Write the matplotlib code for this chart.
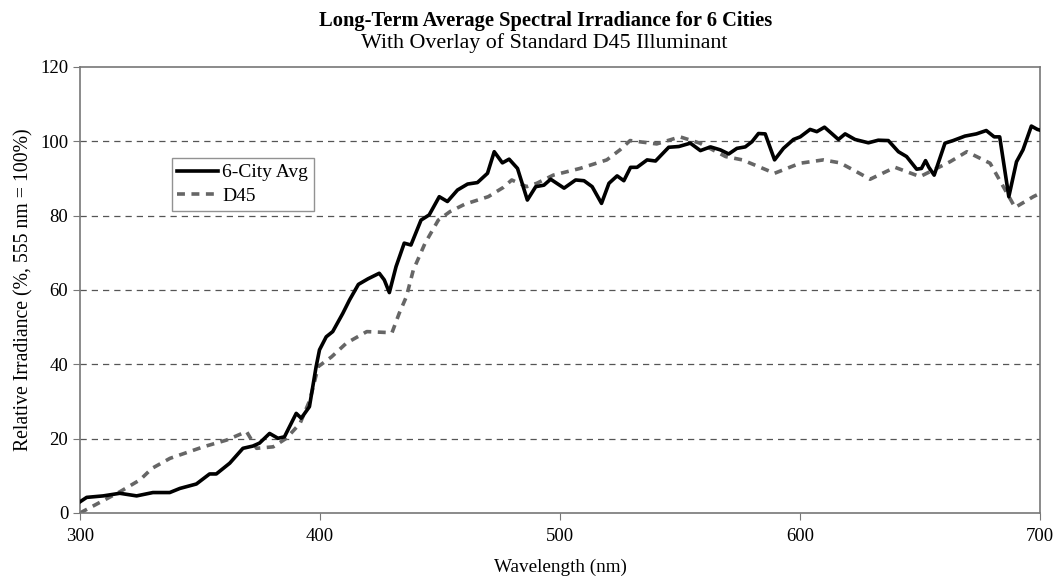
import matplotlib
matplotlib.use("Agg")
import matplotlib.pyplot as plt

# 6-city average spectral irradiance
city_nm = [300, 302.8, 309.7, 316.6, 323.6, 330.4, 337.4, 341.6, 348.5, 354, 356.8,
           362.4, 367.9, 372, 374.8, 379, 382.5, 385.2, 390.1, 392.2, 395.6, 398.4,
           399.8, 402.6, 405.3, 409.5, 412.3, 416, 420, 424.7, 426.8, 428.9, 431.7,
           435.1, 437.9, 442.1, 445.5, 449.7, 453.1, 457.3, 461.5, 465.6, 469.8,
           472.6, 476, 478.8, 482.3, 486.4, 489.9, 493.3, 496.1, 501.7, 506.5, 510,
           513.4, 517.3, 520.4, 523.8, 526.6, 529.4, 532.1, 536.3, 539.8, 545.3,
           549.5, 554.3, 558.5, 562.7, 566.8, 570.3, 573.7, 577.2, 580, 582.7, 585.5,
           589.4, 593.1, 597.3, 600.1, 604.2, 607, 610.2, 613.2, 616, 618.8, 622.9,
           628.5, 632.6, 636.8, 641, 644.4, 648.6, 650.6, 652.3, 653.7, 655.9, 660.4,
           663.8, 668.7, 673.5, 677.6, 680.9, 683.2, 687, 690.2, 692.9, 696.4, 698.9,
           700]
city_val = [3.0, 4.2, 4.6, 5.3, 4.6, 5.5, 5.5, 6.6, 7.8, 10.5, 10.5,
            13.4, 17.4, 18.0, 18.8, 21.4, 20.1, 20.5, 26.8, 25.5, 28.6, 39.4,
            43.9, 47.4, 48.8, 53.7, 57.3, 61.5, 63.0, 64.5, 62.7, 59.3, 66.3,
            72.6, 72.1, 78.8, 80.2, 85.1, 83.8, 86.9, 88.5, 88.9, 91.4,
            97.2, 94.2, 95.2, 92.7, 84.2, 87.8, 88.2, 89.8, 87.4, 89.6, 89.4,
            87.8, 83.3, 88.7, 90.7, 89.4, 93.0, 93.0, 95.0, 94.7, 98.4,
            98.6, 99.5, 97.5, 98.5, 97.7, 96.6, 98.1, 98.5, 99.9, 102.1, 102.0,
            95.0, 98.1, 100.5, 101.2, 103.2, 102.6, 103.8, 102.1, 100.5, 102.0, 100.5,
            99.6, 100.3, 100.2, 97.2, 95.9, 92.5, 92.7, 94.8, 93.0, 90.9, 99.5,
            100.2, 101.4, 102.0, 102.9, 101.2, 101.2, 85.1, 94.5, 97.7, 104.1, 103.2,
            103.0]

# standard D45 illuminant
d45_nm = [300, 316.6, 325, 330, 337.5, 351.4, 361, 369.4, 373.6, 380.5, 386,
          391.7, 395.8, 399.3, 404.8, 411, 419.5, 430, 433, 436, 438.9, 443.8,
          449.3, 454.2, 460.4, 470.1, 476.4, 479.9, 486.1, 490.3, 497.2, 508.3,
          519.5, 525, 529.2, 540.3, 550, 558.3, 569, 576, 589.4, 600, 609.7,
          616.7, 623.6, 629.2, 639.6, 650, 662.5, 669.5, 679.2, 689.6, 697.2, 700]
d45_val = [0.0, 5.7, 8.9, 12.0, 14.7, 17.8, 19.6, 21.9, 17.4, 17.8, 20.1,
           24.1, 30.4, 39.4, 42.0, 45.7, 48.8, 48.5, 53.7, 58.2, 65.4, 72.6,
           78.8, 81.1, 83.1, 85.1, 87.6, 89.6, 87.8, 88.7, 90.9, 92.7,
           95.0, 97.7, 100.2, 99.3, 101.2, 99.5, 95.9, 95.0, 91.4, 94.1, 95.0,
           94.2, 91.8, 89.8, 93.0, 90.5, 94.5, 97.2, 94.1, 82.2, 85.1, 86.0]

x_ticks = [300, 400, 500, 600, 700]
y_ticks = [0, 20, 40, 60, 80, 100, 120]

plt.rcParams["font.family"] = ["Liberation Serif", "DejaVu Serif"]

fig = plt.figure(figsize=(10.55, 5.86), dpi=100)
ax = fig.add_axes([0.0758, 0.1246, 0.91, 0.7611])

for yv in y_ticks[1:-1]:
    ax.axhline(yv, color="#555555", lw=0.9, ls=(0, (5, 4)), zorder=1)

ax.plot(d45_nm, d45_val, color="#666666", lw=2.6, ls=(0, (2.2, 1.8)), label="D45", zorder=2)
ax.plot(city_nm, city_val, color="black", lw=2.6, label="6-City Avg", zorder=3)

ax.set_xlim(300, 700)
ax.set_ylim(0, 120)
ax.set_xticks(x_ticks)
ax.set_yticks(y_ticks)
ax.tick_params(labelsize=13.5, direction="out", length=5, color="#777777")
ax.tick_params(axis="x", pad=6)
for s in ax.spines.values():
    s.set_color("#777777")
    s.set_linewidth(1.2)

ax.set_xlabel("Wavelength (nm)", fontsize=13.8, labelpad=10)
ax.set_ylabel("Relative Irradiance (%, 555 nm = 100%)", fontsize=14.2, labelpad=5)

handles, labels = ax.get_legend_handles_labels()
leg = ax.legend(handles[::-1], labels[::-1], loc="upper left", bbox_to_anchor=(0.0955, 0.796),
                fontsize=14, frameon=True, fancybox=False, borderpad=0.3,
                handlelength=2.1, handletextpad=0.2, labelspacing=0.3, borderaxespad=0)
leg.get_frame().set_edgecolor("#777777")
leg.get_frame().set_linewidth(1.0)

fig.text(0.517, 0.964, "Long-Term Average Spectral Irradiance for 6 Cities",
         ha="center", va="center", fontsize=14.8, fontweight="bold")
fig.text(0.516, 0.927, "With Overlay of Standard D45 Illuminant",
         ha="center", va="center", fontsize=15.8)

fig.savefig("out.png", dpi=100)
